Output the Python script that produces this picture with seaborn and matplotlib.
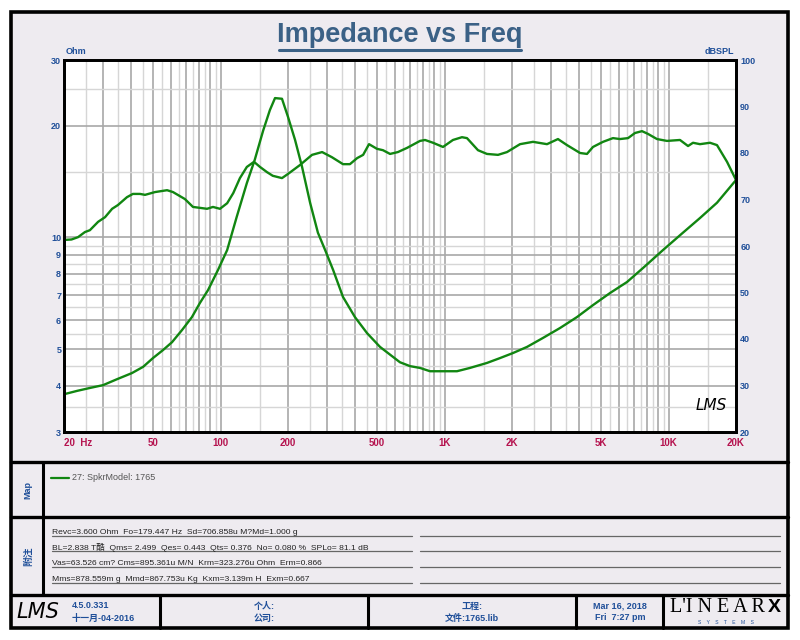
import numpy as np
import pandas as pd
import seaborn as sns
import matplotlib.pyplot as plt
from matplotlib.patches import Rectangle

# impedance curve, left axis (Ohm)
imp_freq = [20, 22.9, 26.1, 29.9, 34.5, 40.2, 45.1, 49.9, 55.3, 60.7, 67.3, 74.5, 80.9, 87.9, 97.4,
            107, 118, 131, 142, 155, 166, 175, 188, 200, 215, 231, 251, 272, 293, 318, 352, 398,
            451, 515, 632, 701, 777, 861, 984, 1136, 1298, 1546, 1767, 2019, 2334, 2750, 3276,
            3900, 4598, 5476, 6522, 7692, 9440, 11590, 13810, 16450, 20000]
imp_ohm = [3.79, 3.87, 3.94, 4.01, 4.16, 4.32, 4.49, 4.74, 4.98, 5.23, 5.64, 6.11, 6.67, 7.22, 8.18,
           9.25, 11.35, 14.0, 16.15, 19.4, 22.0, 23.7, 23.6, 21.1, 18.3, 15.5, 12.4, 10.3, 9.25,
           8.18, 6.92, 6.11, 5.53, 5.08, 4.62, 4.51, 4.46, 4.37, 4.37, 4.37, 4.46, 4.60, 4.74,
           4.89, 5.08, 5.37, 5.71, 6.11, 6.58, 7.09, 7.59, 8.28, 9.25, 10.3, 11.28, 12.4, 14.27]

# SPL curve, right axis (dBSPL)
spl_freq = [20, 21.6, 23.1, 24.8, 26.1, 28.4, 30.5, 32.8, 34.8, 38.2, 40.6, 43.7, 46, 51, 57.7,
            61.3, 69.3, 75.3, 87, 92.5, 99.4, 107, 114, 122, 131, 141, 150, 161, 171, 188, 200,
            226, 256, 284, 314, 352, 378, 407, 433, 460, 499, 531, 571, 619, 680, 777, 818, 888,
            984, 1090, 1196, 1259, 1410, 1546, 1732, 1900, 2172, 2482, 2866, 3208, 3520, 4026,
            4324, 4598, 5096, 5648, 6068, 6592, 7080, 7610, 8098, 8876, 9840, 11246, 12216,
            12854, 13810, 15310, 16450, 18240, 20000]
spl_db = [61.3, 61.4, 61.9, 63.0, 63.4, 65.2, 66.2, 68.0, 68.8, 70.5, 71.2, 71.2, 71.0, 71.6, 72.0,
          71.6, 70.1, 68.4, 68.0, 68.4, 68.0, 69.2, 71.4, 74.6, 77.0, 78.1, 77.0, 75.9, 75.1,
          74.6, 75.5, 77.4, 79.6, 80.2, 79.1, 77.6, 77.6, 78.9, 79.6, 81.9, 80.9, 80.6, 79.8,
          80.2, 81.1, 82.6, 82.8, 82.2, 81.3, 82.8, 83.4, 83.2, 80.6, 79.8, 79.6, 80.2, 81.9,
          82.4, 81.9, 83.0, 81.7, 80.0, 79.8, 81.3, 82.4, 83.2, 83.0, 83.2, 84.3, 84.7, 84.1,
          83.0, 82.6, 82.8, 81.5, 82.2, 81.9, 82.2, 81.7, 78.1, 74.2]

x_labels = {20: '20  Hz', 50: '50', 100: '100', 200: '200', 500: '500', 1000: '1K',
            2000: '2K', 5000: '5K', 10000: '10K', 20000: '20K'}
ohm_ticks = [3, 4, 5, 6, 7, 8, 9, 10, 20, 30]
ohm_minor = [3.5, 4.5, 5.5, 6.5, 7.5, 8.5, 9.5, 15, 25]
db_ticks = [20, 30, 40, 50, 60, 70, 80, 90, 100]

legend_label = '27: SpkrModel: 1765'
notes = ['Revc=3.600 Ohm  Fo=179.447 Hz  Sd=706.858u M?Md=1.000 g',
         'BL=2.838 T酷  Qms= 2.499  Qes= 0.443  Qts= 0.376  No= 0.080 %  SPLo= 81.1 dB',
         'Vas=63.526 cm? Cms=895.361u M/N  Krm=323.276u Ohm  Erm=0.866',
         'Mms=878.559m g  Mmd=867.753u Kg  Kxm=3.139m H  Exm=0.667']

sns.set_style('white')
plt.rcParams['font.family'] = ['Liberation Sans', 'Noto Sans CJK SC', 'DejaVu Sans']

GREEN = '#118611'
BLUE = '#1f4f99'
RED = '#b5134f'
PANEL = '#eeebf0'

fig = plt.figure(figsize=(8, 6.4), dpi=100)
fig.patch.set_facecolor('white')

# page frame in pixel coordinates
bg = fig.add_axes([0, 0, 1, 1])
bg.set_xlim(0, 800)
bg.set_ylim(640, 0)
bg.axis('off')
bg.add_patch(Rectangle((11, 12), 777, 616, facecolor=PANEL, edgecolor='black', lw=2.6))
for yy in [462, 517, 595]:
    bg.plot([11, 788], [yy, yy], color='black', lw=2.4)
bg.plot([43, 43], [462, 595], color='black', lw=2.2)
for xx in [160, 368, 576, 663]:
    bg.plot([xx, xx], [595, 628], color='black', lw=2.2)

bg.text(400, 35, 'Impedance vs Freq', ha='center', va='center', fontsize=19.5,
        fontweight='bold', color='#3b6186')
bg.plot([279, 521], [49.5, 49.5], color='#3b6186', lw=2.2)
bg.text(66, 52, 'Ohm', ha='left', va='center', fontsize=6.5, fontweight='bold', color=BLUE)
bg.text(734, 52, 'dBSPL', ha='right', va='center', fontsize=6.5, fontweight='bold', color=BLUE)

# map panel
bg.text(28, 490, 'Map', rotation=90, ha='center', va='center', fontsize=6.5,
        fontweight='bold', color=BLUE)
bg.plot([51, 69], [478, 478], color=GREEN, lw=1.6)
bg.text(72, 478, legend_label, ha='left', va='center', fontsize=6.5, color='#555555')

# notes panel
bg.text(28, 556, '附注', rotation=90, ha='center', va='center', fontsize=7,
        fontweight='bold', color=BLUE)
for i, line in enumerate(notes):
    yy = 532 + i * 15.7
    bg.text(52, yy, line, ha='left', va='center', fontsize=6.1, color='#222222')
    bg.plot([52, 412], [yy + 3.5, yy + 3.5], color='#666666', lw=0.9)
    bg.plot([420, 780], [yy + 3.5, yy + 3.5], color='#666666', lw=0.9)

# footer
bg.text(38, 612, 'LMS', ha='center', va='center', fontsize=15, fontstyle='italic',
        family='DejaVu Sans', fontweight='light', color='black')
bg.text(72, 606, '4.5.0.331', ha='left', va='center', fontsize=6.5, fontweight='bold', color=BLUE)
bg.text(72, 618, '十一月-04-2016', ha='left', va='center', fontsize=6.5, fontweight='bold', color=BLUE)
bg.text(264, 606, '个人:', ha='center', va='center', fontsize=6.5, fontweight='bold', color=BLUE)
bg.text(264, 618, '公司:', ha='center', va='center', fontsize=6.5, fontweight='bold', color=BLUE)
bg.text(472, 606, '工程:', ha='center', va='center', fontsize=6.5, fontweight='bold', color=BLUE)
bg.text(472, 618, '文件:1765.lib', ha='center', va='center', fontsize=6.5, fontweight='bold', color=BLUE)
bg.text(620, 606, 'Mar 16, 2018', ha='center', va='center', fontsize=6.5, fontweight='bold', color=BLUE)
bg.text(620, 618, 'Fri  7:27 pm', ha='center', va='center', fontsize=6.5, fontweight='bold', color=BLUE)
bg.text(718, 608, "L'I N E A R", ha='center', va='center', fontsize=14.5, family='Liberation Serif',
        color='black')
bg.text(774, 608, 'X', ha='center', va='center', fontsize=14, fontweight='bold', color='black')
bg.text(726, 622, 'S    Y    S    T    E    M    S', ha='center', va='center', fontsize=3.6,
        color=BLUE)

# main chart
ax = fig.add_axes([64 / 800, 1 - 432 / 640, 672 / 800, 372 / 640])
ax.set_facecolor('white')
ax.set_xscale('log')
ax.set_yscale('log')
ax.set_xlim(20, 20000)
ax.set_ylim(3, 30)

x_major = [m * d for d in [10, 100, 1000, 10000] for m in range(1, 10) if 20 <= m * d <= 20000]
x_minor = [(m + 0.5) * d for d in [10, 100, 1000, 10000] for m in range(1, 10)
           if 20 <= (m + 0.5) * d <= 20000]
ax.set_xticks(x_major, [x_labels.get(v, '') for v in x_major])
ax.set_xticks(x_minor, minor=True)
ax.xaxis.set_minor_formatter(plt.NullFormatter())
ax.set_yticks(ohm_ticks, [str(v) for v in ohm_ticks])
ax.set_yticks(ohm_minor, minor=True)
ax.yaxis.set_minor_formatter(plt.NullFormatter())
ax.grid(which='major', color='#a8a8a8', lw=1.2)
ax.grid(which='minor', color='#d6d6d6', lw=1.0)
ax.set_axisbelow(True)
ax.tick_params(which='both', length=0)
ax.tick_params(axis='x', pad=4, labelsize=7, labelcolor=RED)
ax.tick_params(axis='y', pad=2, labelsize=6.5, labelcolor=BLUE)
for lab in ax.get_xticklabels():
    lab.set_fontweight('bold')
ax.get_xticklabels()[0].set_horizontalalignment('left')
for lab in ax.get_yticklabels():
    lab.set_fontweight('bold')

imp_df = pd.DataFrame({'freq': imp_freq, 'ohm': imp_ohm})
sns.lineplot(data=imp_df, x='freq', y='ohm', ax=ax, color=GREEN, lw=1.7, estimator=None, sort=False)
ax.set_xlabel('')
ax.set_ylabel('')

ax2 = ax.twinx()
ax2.set_ylim(20, 100)
spl_df = pd.DataFrame({'freq': spl_freq, 'db': spl_db})
sns.lineplot(data=spl_df, x='freq', y='db', ax=ax2, color=GREEN, lw=1.7, estimator=None, sort=False)
ax2.set_yticks(db_ticks, [str(v) for v in db_ticks])
ax2.tick_params(length=0, pad=3, labelsize=6.5, labelcolor=BLUE)
for lab in ax2.get_yticklabels():
    lab.set_fontweight('bold')
ax2.set_xlabel('')
ax2.set_ylabel('')
ax2.grid(False)
ax2.set_xlim(20, 20000)

for a in (ax, ax2):
    for s in a.spines.values():
        s.set_color('black')
        s.set_linewidth(2.0)

ax2.text(0.963, 0.07, 'LMS', transform=ax2.transAxes, ha='center', va='center', fontsize=11,
         fontstyle='italic', family='DejaVu Sans', fontweight='light', color='black')

fig.savefig('out.png', dpi=100, facecolor=fig.get_facecolor())
